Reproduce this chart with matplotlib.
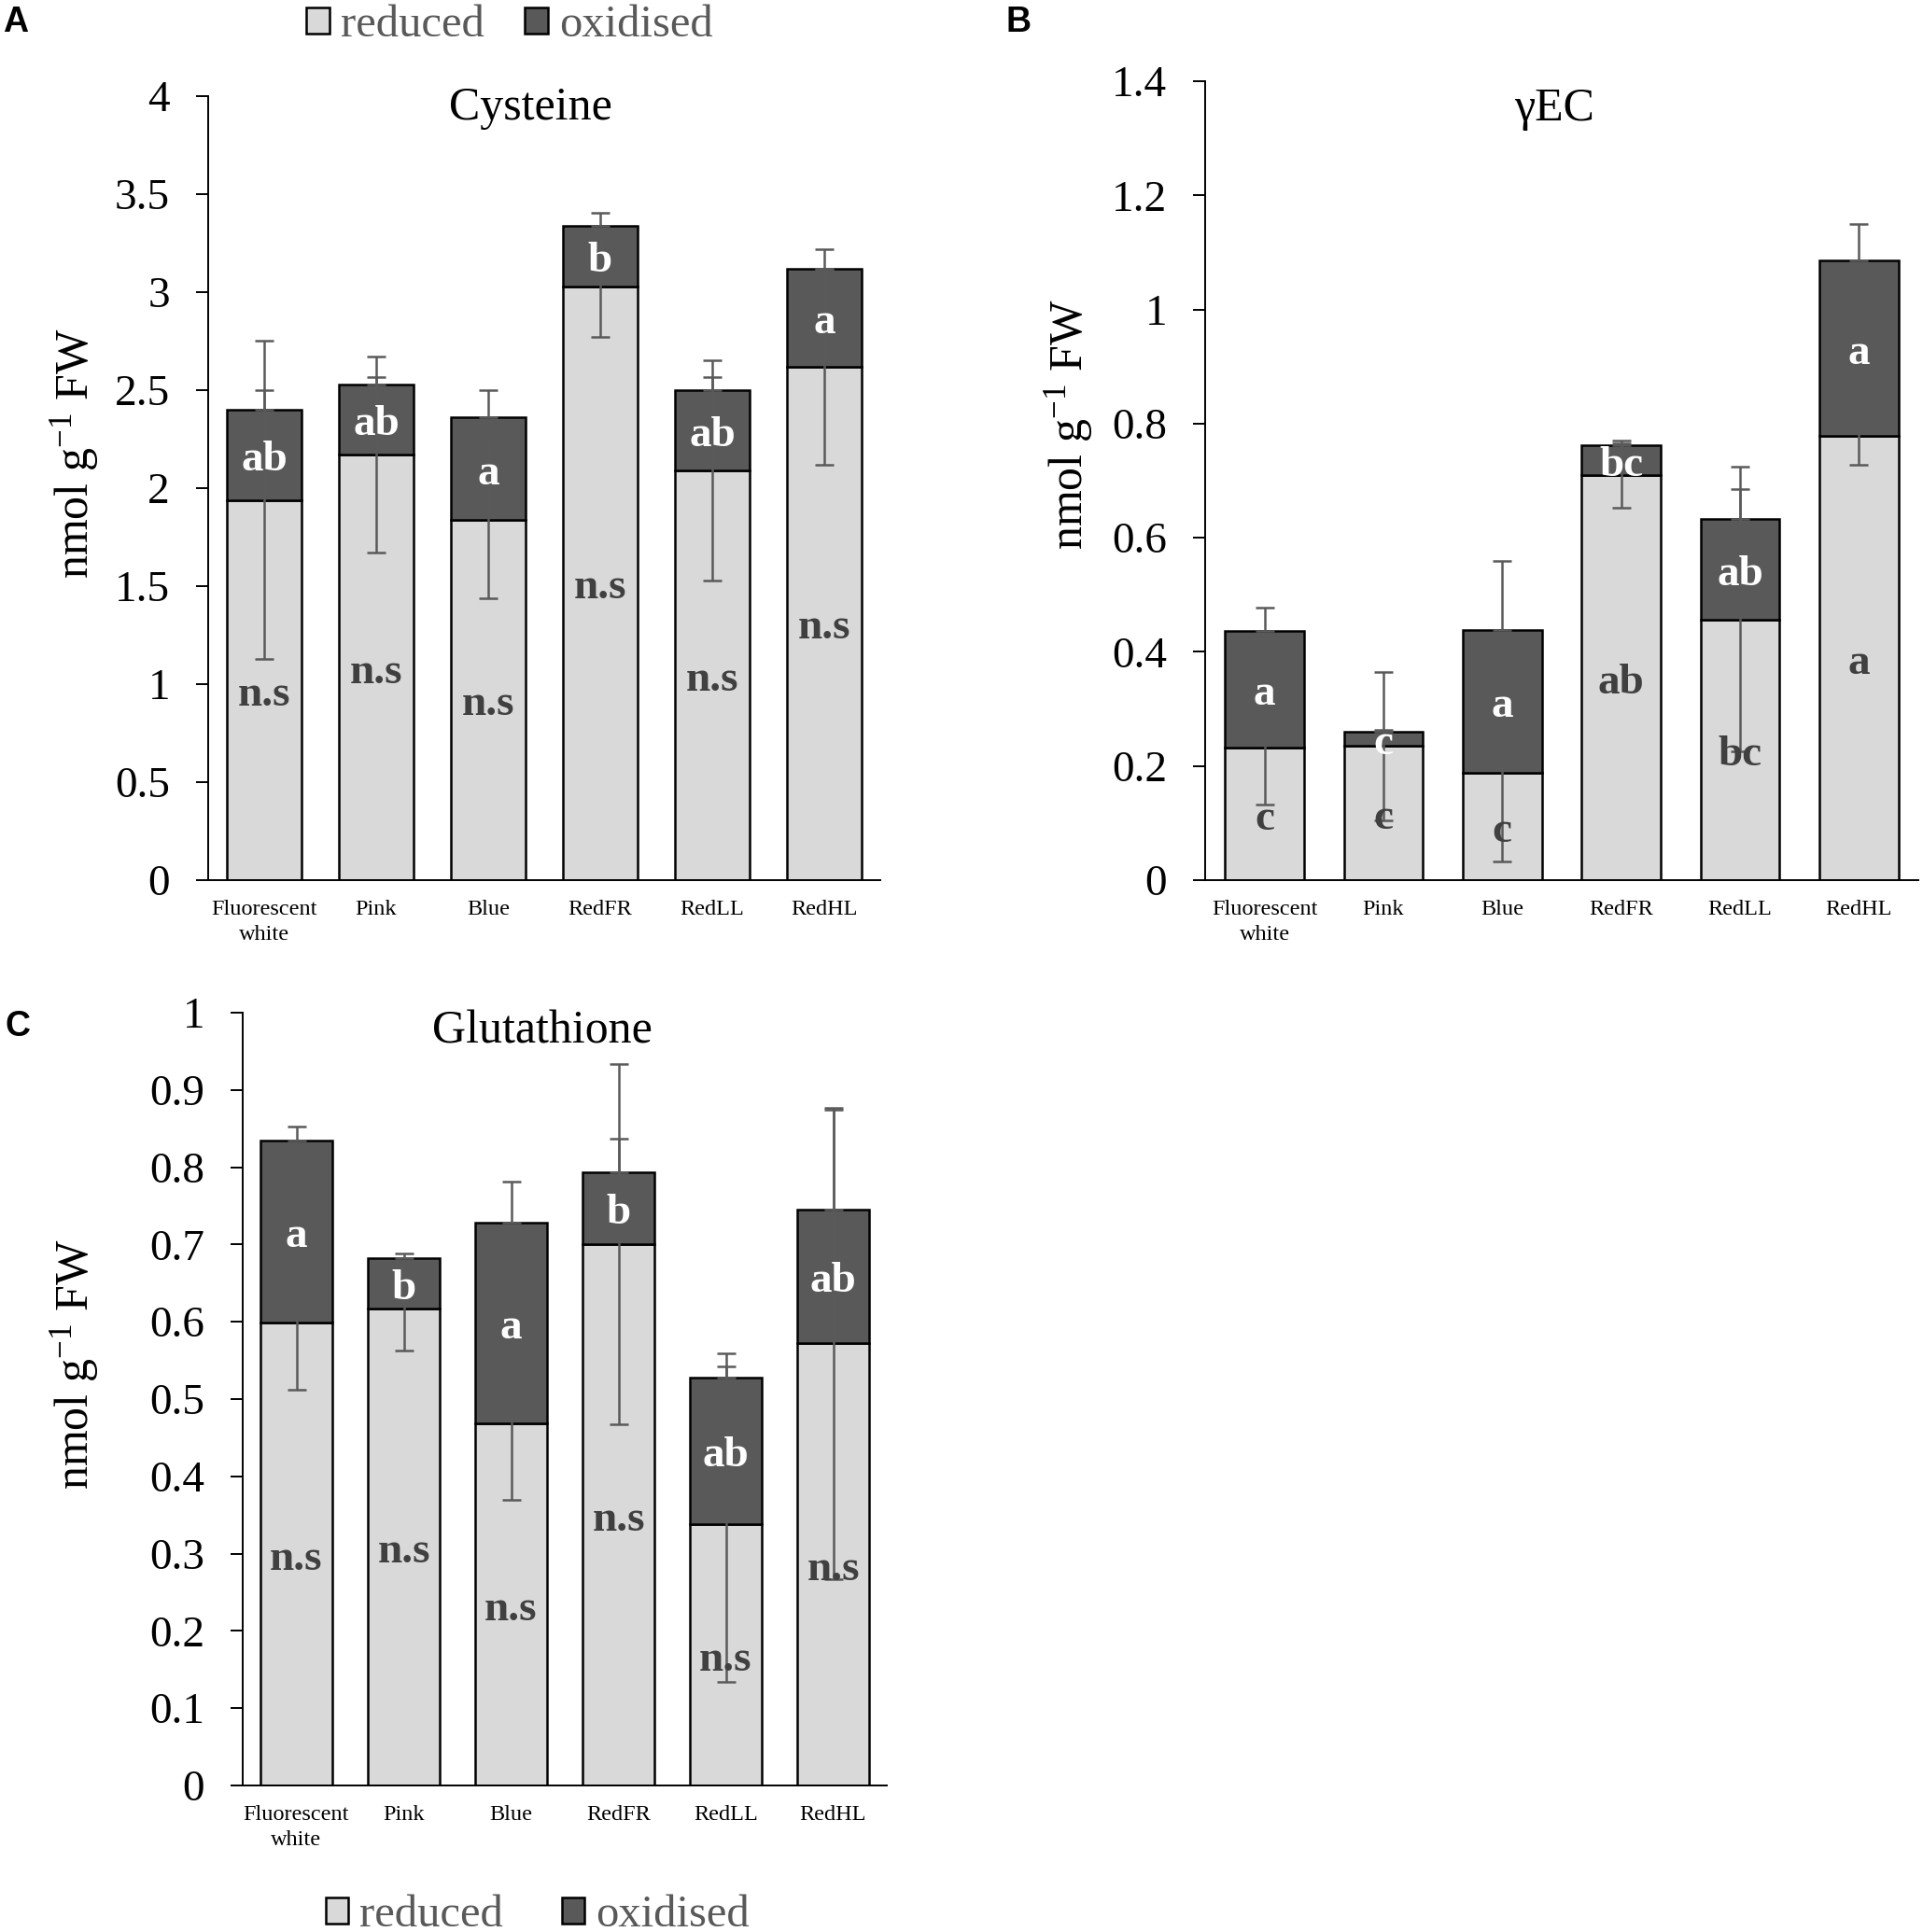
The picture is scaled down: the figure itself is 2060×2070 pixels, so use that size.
#!/usr/bin/env python3
"""Cysteine / gEC / Glutathione stacked bars (reduced + oxidised)"""

import matplotlib
matplotlib.use('Agg')
import matplotlib.pyplot as plt
from matplotlib.patches import Patch
from matplotlib.transforms import offset_copy
import numpy as np

plt.rcParams['font.family'] = ['Liberation Serif', 'DejaVu Serif']
plt.rcParams['mathtext.fontset'] = 'custom'
plt.rcParams['mathtext.rm'] = 'Liberation Serif'
plt.rcParams['mathtext.it'] = 'Liberation Serif:italic'

# data
categories = ['Fluorescent\nwhite', 'Pink', 'Blue', 'RedFR', 'RedLL', 'RedHL']

cys_reduced = [1.94, 2.17, 1.84, 3.03, 2.09, 2.62]
cys_oxidised = [0.46, 0.36, 0.52, 0.31, 0.41, 0.50]
cys_reduced_err = [0.81, 0.50, 0.40, 0.26, 0.56, 0.50]
cys_oxidised_err = [0.10, 0.035, 0.14, 0.064, 0.066, 0.097]
cys_red_letters = ['n.s', 'n.s', 'n.s', 'n.s', 'n.s', 'n.s']
cys_ox_letters = ['ab', 'ab', 'a', 'b', 'ab', 'a']

gec_reduced = [0.232, 0.235, 0.188, 0.709, 0.456, 0.778]
gec_oxidised = [0.205, 0.025, 0.251, 0.053, 0.177, 0.308]
gec_reduced_err = [0.10, 0.13, 0.156, 0.057, 0.23, 0.051]
gec_oxidised_err = [0.041, 0.004, 0.12, 0.008, 0.092, 0.063]
gec_red_letters = ['c', 'c', 'c', 'ab', 'bc', 'a']
gec_ox_letters = ['a', 'c', 'a', 'bc', 'ab', 'a']

glu_reduced = [0.599, 0.617, 0.468, 0.700, 0.338, 0.572]
glu_oxidised = [0.236, 0.065, 0.260, 0.094, 0.190, 0.173]
glu_reduced_err = [0.087, 0.054, 0.098, 0.233, 0.204, 0.305]
glu_oxidised_err = [0.018, 0.007, 0.053, 0.043, 0.031, 0.13]
glu_red_letters = ['n.s', 'n.s', 'n.s', 'n.s', 'n.s', 'n.s']
glu_ox_letters = ['a', 'b', 'a', 'b', 'ab', 'ab']

LIGHT = '#d9d9d9'
DARK = '#595959'
ERR = '#5a5a5a'
W, H = 2060, 2070


def axes_rect(left, top, right, bottom):
    # pixel box -> figure fraction
    return [left / W, 1 - bottom / H, (right - left) / W, (bottom - top) / H]


def draw_panel(ax, reduced, oxidised, red_err, ox_err, red_letters, ox_letters,
               ymax, step, title, title_x, title_y, ylab_xy):
    x = np.arange(len(categories))
    reduced = np.array(reduced)
    oxidised = np.array(oxidised)
    total = reduced + oxidised

    ax.bar(x, reduced, width=0.667, color=LIGHT, edgecolor='black', linewidth=1.8, zorder=2)
    ax.bar(x, oxidised, bottom=reduced, width=0.667, color=DARK, edgecolor='black',
           linewidth=1.8, zorder=2)
    ax.errorbar(x, reduced, yerr=red_err, fmt='none', ecolor=ERR, elinewidth=1.8,
                capsize=7, capthick=1.8, zorder=3)
    ax.errorbar(x, total, yerr=[np.zeros(len(x)), ox_err], fmt='none', ecolor=ERR,
                elinewidth=1.8, capsize=7, capthick=1.8, zorder=3)

    # labels sit a little below the exact middle, like Excel data labels
    tr = offset_copy(ax.transData, fig=ax.figure, x=0, y=-4, units='points')
    for i in range(len(x)):
        ax.text(x[i], reduced[i] / 2, red_letters[i], ha='center', va='center',
                fontsize=34, fontweight='bold', color='#404040', zorder=4, transform=tr)
        ax.text(x[i], reduced[i] + oxidised[i] / 2, ox_letters[i], ha='center',
                va='center', fontsize=34, fontweight='bold', color='white', zorder=4,
                transform=tr)

    ax.set_xlim(-0.5, len(x) - 0.5)
    ax.set_ylim(0, ymax)
    ax.set_yticks(np.arange(0, ymax + step / 2, step))
    ax.yaxis.set_major_formatter(plt.FuncFormatter(lambda v, p: f'{round(v, 2):g}'))
    ax.set_xticks(x)
    ax.set_xticklabels(categories, fontsize=17.5, linespacing=1.4)
    ax.tick_params(axis='x', length=0, pad=15)
    ax.tick_params(axis='y', direction='out', length=9.5, width=1.4, labelsize=34, pad=20)
    for s in ['top', 'right']:
        ax.spines[s].set_visible(False)
    for s in ['left', 'bottom']:
        ax.spines[s].set_linewidth(1.4)
        ax.spines[s].set_color('black')
        ax.spines[s].set_zorder(5)

    ax.text(title_x, title_y, title, transform=ax.transAxes, ha='center', va='center',
            fontsize=36)
    ax.set_ylabel(r'nmol g$^{\mathrm{-1}}$ FW', fontsize=36)
    ax.yaxis.set_label_coords(*ylab_xy)


fig = plt.figure(figsize=(W / 100, H / 100), dpi=100)

ax_a = fig.add_axes(axes_rect(223, 103, 943, 943))
draw_panel(ax_a, cys_reduced, cys_oxidised, cys_reduced_err, cys_oxidised_err,
           cys_red_letters, cys_ox_letters, 4, 0.5, 'Cysteine', 0.48, 0.985,
           (-0.16, 0.545))

ax_b = fig.add_axes(axes_rect(1291, 87, 2055, 943))
draw_panel(ax_b, gec_reduced, gec_oxidised, gec_reduced_err, gec_oxidised_err,
           gec_red_letters, gec_ox_letters, 1.4, 0.2, 'γEC', 0.49, 0.965,
           (-0.155, 0.57))

ax_c = fig.add_axes(axes_rect(260, 1085, 950, 1913))
draw_panel(ax_c, glu_reduced, glu_oxidised, glu_reduced_err, glu_oxidised_err,
           glu_red_letters, glu_ox_letters, 1.0, 0.1, 'Glutathione', 0.465, 0.975,
           (-0.22, 0.545))

# panel letters
for lbl, px, py in [('A', 17, 24), ('B', 1091, 24), ('C', 19, 1100)]:
    fig.text(px / W, 1 - py / H, lbl, ha='center', va='center', fontsize=27,
             fontweight='bold', family='Liberation Sans')

handles = [Patch(facecolor=LIGHT, edgecolor='black', linewidth=1.8, label='reduced'),
           Patch(facecolor=DARK, edgecolor='black', linewidth=1.8, label='oxidised')]

fig.legend(handles=handles, loc='center', bbox_to_anchor=(546 / W, 1 - 27 / H), ncol=2,
           frameon=False, fontsize=35, labelcolor=DARK, handlelength=0.5, handleheight=0.5,
           handletextpad=0.25, columnspacing=0.9, borderpad=0)

fig.legend(handles=handles, loc='center', bbox_to_anchor=(576 / W, 1 - 2052 / H), ncol=2,
           frameon=False, fontsize=35, labelcolor=DARK, handlelength=0.5, handleheight=0.5,
           handletextpad=0.25, columnspacing=1.3, borderpad=0)

fig.savefig('out.png', dpi=100)
plt.close(fig)
